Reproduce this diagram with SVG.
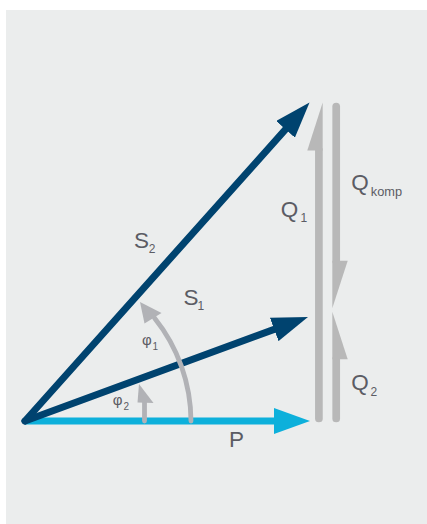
<svg xmlns="http://www.w3.org/2000/svg" width="427" height="524" viewBox="0 0 427 524">
<defs>
<style>
.lbl{font-family:"Liberation Sans",Arial,sans-serif;fill:#5b5c64;font-size:22.5px}
.sub{font-size:12px}
.phi{font-size:15px}
.phisub{font-size:10px}
.vec{fill:none;stroke-width:7;stroke-linecap:round}
.dark{stroke:#00436f}
.cyan{stroke:#0db0db}
.q{stroke:#b8b8b8;stroke-width:7.7;stroke-linecap:round;fill:none}
.qh{fill:#b8b8b8}
.arc{fill:none;stroke:#b1b2b6;stroke-width:4.8;stroke-linecap:round}
.ah{fill:#b1b2b6}
</style>
<marker id="mDark" markerUnits="userSpaceOnUse" markerWidth="36" markerHeight="25" refX="16" refY="12.5" orient="auto"><path d="M0,0 L36,12.5 L0,25 z" fill="#00436f"/></marker>
<marker id="mCyan" markerUnits="userSpaceOnUse" markerWidth="36" markerHeight="26" refX="16" refY="13" orient="auto"><path d="M0,0 L36,13 L0,26 z" fill="#0db0db"/></marker>
</defs>
<rect id="panel" x="6" y="10" width="421" height="514" fill="#ebeded"/>
<g id="connectors">
<g id="P-vector"><line class="vec cyan" x1="25" y1="421" x2="290" y2="421" marker-end="url(#mCyan)" style="stroke-linecap:butt"/></g>
<g id="S1-vector"><line class="vec dark" x1="25" y1="421" x2="289.2" y2="323.9" marker-end="url(#mDark)"/></g>
<g id="S2-vector"><line class="vec dark" x1="25" y1="421" x2="296.2" y2="117.4" marker-end="url(#mDark)"/></g>
<g id="Q1-vector"><line class="q" x1="318.9" y1="418.5" x2="318.9" y2="150"/><polygon class="qh" points="322.7,102.5 322.7,150.5 307.3,150.5"/></g>
<g id="Qkomp-vector"><line class="q" x1="336.2" y1="106.5" x2="336.2" y2="261"/><polygon class="qh" points="332.3,260.7 347.7,260.7 332.3,308.3"/></g>
<g id="Q2-vector"><line class="q" x1="336.2" y1="418.5" x2="336.2" y2="359"/><polygon class="qh" points="332.3,311.7 347.7,359.3 332.3,359.3"/></g>
<g id="phi1-arc"><path class="arc" d="M191,421 A166,166 0 0 0 154.5,318"/><polygon class="ah" points="140,302 144.5,323.5 161.5,313"/></g>
<g id="phi2-arc"><path class="arc" d="M144.5,421 L144.5,401"/><polygon class="ah" points="139,384 137.5,402.5 153.5,403"/></g>
</g>
<g id="labels">
<g id="label-S2"><text class="lbl" x="134" y="247.8">S</text><text class="lbl sub" x="148.8" y="253.3">2</text></g>
<g id="label-S1"><text class="lbl" x="183.5" y="305">S</text><text class="lbl sub" x="197.5" y="310">1</text></g>
<g id="label-Q1"><text class="lbl" x="280.8" y="217.3">Q</text><text class="lbl sub" x="300.5" y="222.3">1</text></g>
<g id="label-Qkomp"><text class="lbl" x="351.2" y="189.8">Q</text><text class="lbl sub" x="370.8" y="196" style="font-size:12.8px">komp</text></g>
<g id="label-Q2"><text class="lbl" x="351.2" y="389.8">Q</text><text class="lbl sub" x="370.5" y="396">2</text></g>
<g id="label-P"><text class="lbl" x="229" y="446.7">P</text></g>
<g id="label-phi1"><text class="lbl phi" x="142" y="345">φ</text><text class="lbl phisub" x="152.5" y="350">1</text></g>
<g id="label-phi2"><text class="lbl phi" x="112.8" y="404.5">φ</text><text class="lbl phisub" x="123.5" y="409.5">2</text></g>
</g>
</svg>
